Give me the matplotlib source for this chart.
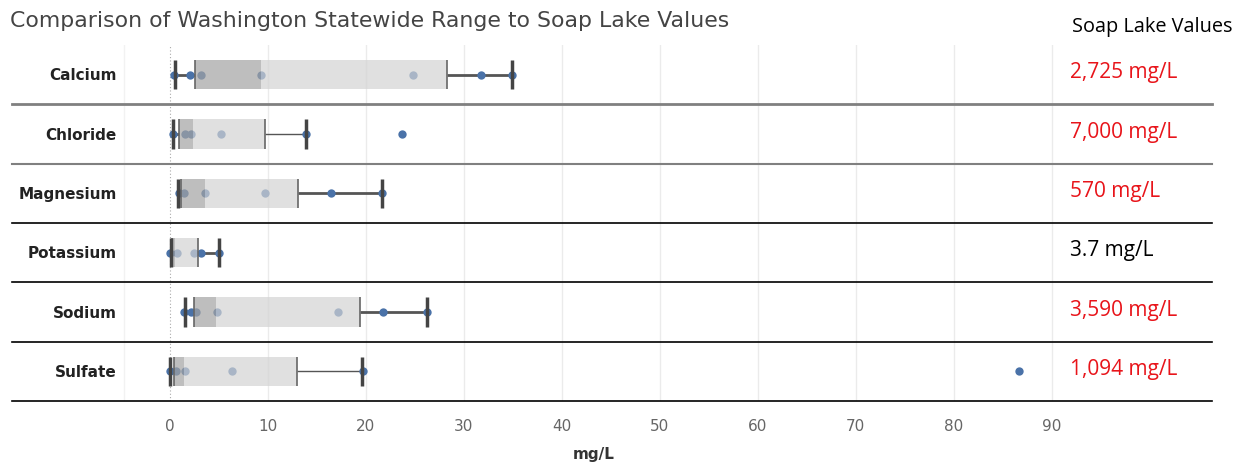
import numpy as np
import matplotlib.pyplot as plt

# --- data (mg/L) ---
elements = ['Calcium', 'Chloride', 'Magnesium', 'Potassium', 'Sodium', 'Sulfate']
points = [
    [0.44, 2.14, 3.23, 9.29, 24.8, 31.8, 34.9],
    [0.37, 1.56, 2.24, 5.3, 13.95, 23.7],
    [0.95, 1.53, 3.67, 9.73, 16.46, 21.7],
    [0.1, 0.78, 2.48, 3.23, 5.03],
    [1.53, 2.24, 2.72, 4.86, 17.2, 21.8, 26.3],
    [0.03, 0.71, 1.56, 6.4, 19.76, 86.7],
]
whisk_lo = [0.54, 0.37, 0.85, 0.17, 1.63, 0.1]
q1 = [2.58, 0.95, 1.19, 0.27, 2.48, 0.51]
median = [9.3, 2.41, 3.6, 0.61, 4.76, 1.53]
q3 = [28.3, 9.73, 13.13, 2.93, 19.4, 13.03]
whisk_hi = [34.9, 13.95, 21.7, 5.03, 26.3, 19.66]
soap_lake = ['2,725 mg/L', '7,000 mg/L', '570 mg/L', '3.7 mg/L', '3,590 mg/L', '1,094 mg/L']
over_range = [True, True, True, False, True, True]
xticks = list(range(0, 100, 10))

# whisker weight per row (thin ones in the reference)
whisk_lw = [2, 1, 2, 2, 2, 1]
sep_color = ['#808080', '#808080', 'black', 'black', 'black', 'black']
sep_lw = [2, 1.5, 1.2, 1.2, 1.2, 1.2]

W, H = 1236, 464
fig = plt.figure(figsize=(W / 100, H / 100), dpi=100)

# axes placed in pixel coords: x 12..1212, y 47..402
px0, px1, py0, py1 = 12, 1212, 46, 402
ax = fig.add_axes([px0 / W, 1 - py1 / H, (px1 - px0) / W, (py1 - py0) / H])
zero_px, per_unit = 169.5, 9.8
ax.set_xlim((px0 - zero_px) / per_unit, (px1 - zero_px) / per_unit)
ax.set_ylim(len(elements) - 0.5, -0.5)
for s in ax.spines.values():
    s.set_visible(False)
ax.set_yticks([])
ax.set_xticks(xticks)
ax.tick_params(axis='x', length=0, pad=12, labelsize=11, labelcolor='#666666')

# grid
for t in xticks[1:]:
    ax.axvline(t, color='#ebebeb', lw=1, zorder=0)
ax.axvline(0, color='#aaaaaa', lw=0.8, ls=(0, (1, 2)), zorder=0)
ax.axvline((124 - zero_px) / per_unit, color='#f2f2f2', lw=1, zorder=0)

bh = 0.49
dot_c = '#4a72a8'
for i, name in enumerate(elements):
    # points first so the box tints them
    ax.scatter(points[i], [i] * len(points[i]), s=36, color=dot_c, zorder=2, linewidths=0)
    # box halves
    ax.barh(i, median[i] - q1[i], left=q1[i], height=bh, color='#a3a3a3', alpha=0.7, zorder=3, lw=0)
    ax.barh(i, q3[i] - median[i], left=median[i], height=bh, color='#d3d3d3', alpha=0.7, zorder=3, lw=0)
    # box edges
    ax.vlines([q1[i], q3[i]], i - bh / 2, i + bh / 2, color='#666666', lw=1.2, zorder=4)
    # whiskers
    ax.hlines(i, whisk_lo[i], q1[i], color='#555555', lw=2, zorder=1)
    ax.hlines(i, q3[i], whisk_hi[i], color='#555555', lw=whisk_lw[i], zorder=1)
    ax.vlines([whisk_lo[i], whisk_hi[i]], i - bh / 2, i + bh / 2, color='#444444', lw=2.5, zorder=4)
    # separators
    ax.axhline(i + 0.5, color=sep_color[i], lw=sep_lw[i], zorder=5, clip_on=False)
    # row label
    ax.text((117 - zero_px) / per_unit, i, name, ha='right', va='center',
            fontsize=11, fontweight='bold', color='#222222')
    # soap lake value
    ax.text((1070 - zero_px) / per_unit, i - 0.05, soap_lake[i], ha='left', va='center',
            fontsize=15, color='#e8141a' if over_range[i] else 'black', family='Open Sans')

fig.text(10 / W, 1 - 21 / H, 'Comparison of Washington Statewide Range to Soap Lake Values',
         ha='left', va='center', fontsize=15.8, color='#444444')
fig.text(1232 / W, 1 - 27 / H, 'Soap Lake Values', ha='right', va='center',
         fontsize=14.3, color='black', family='Open Sans')
fig.text(594 / W, 1 - 455 / H, 'mg/L', ha='center', va='center',
         fontsize=11, fontweight='bold', color='#333333')

fig.savefig('out.png', dpi=100)
